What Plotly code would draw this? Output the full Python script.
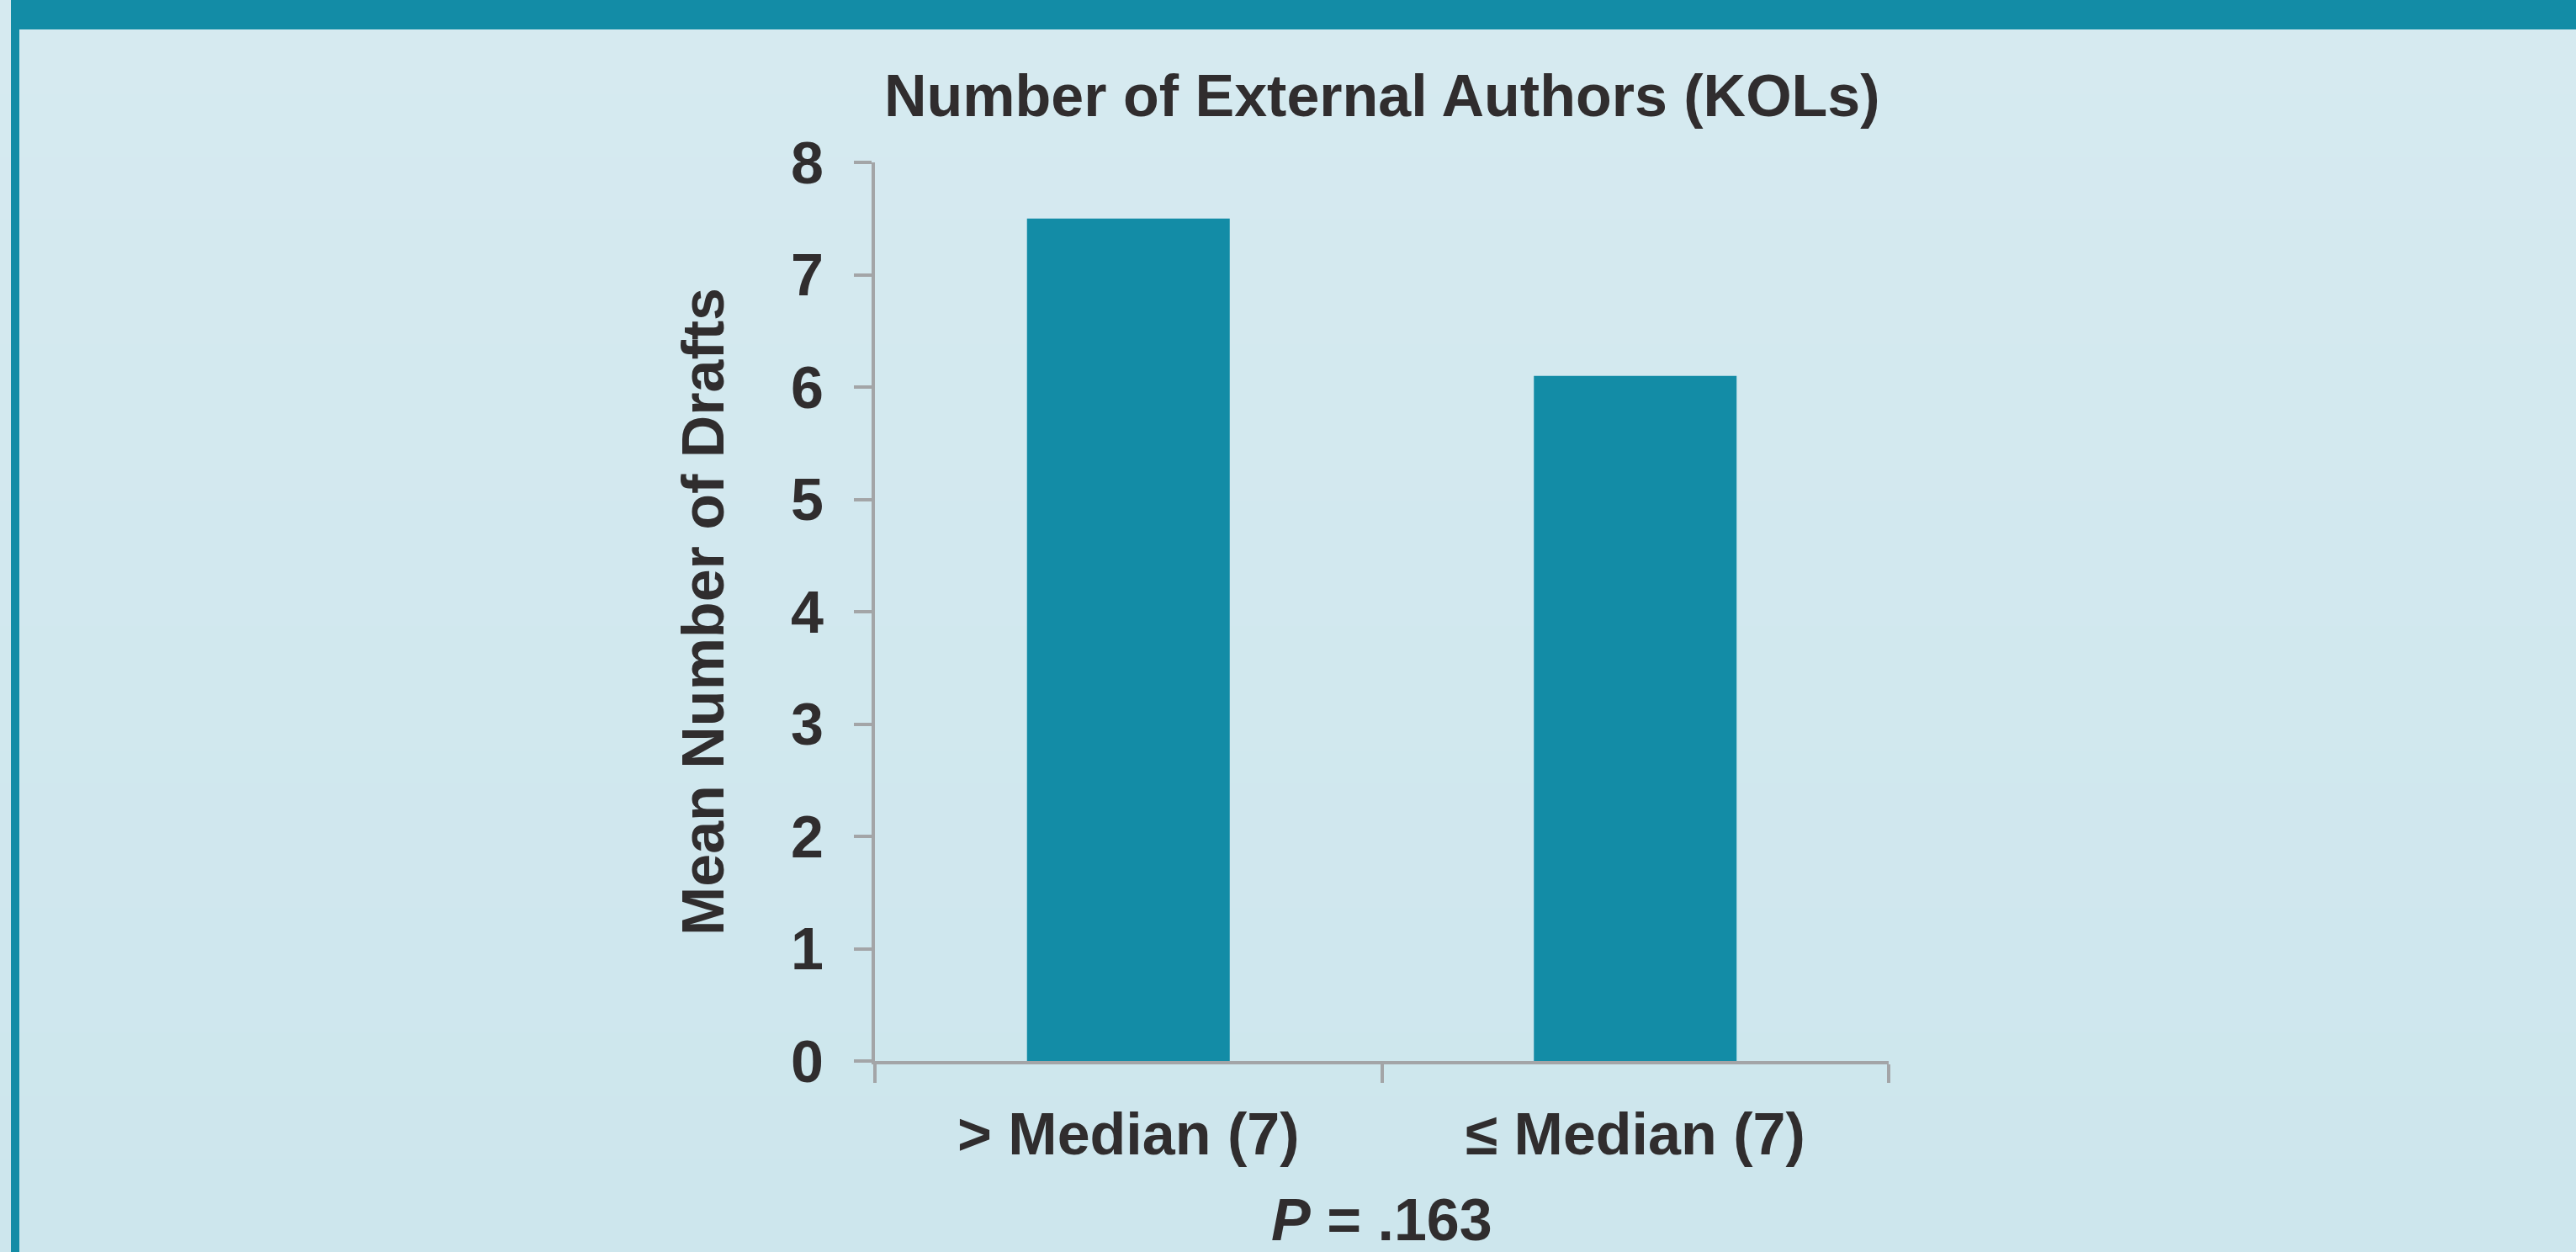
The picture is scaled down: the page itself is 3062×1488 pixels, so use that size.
import plotly.graph_objects as go

# Mean number of drafts by count of external authors (KOLs)
categories = ["> Median (7)", "≤ Median (7)"]
mean_drafts = [7.5, 6.1]
y_ticks = [0, 1, 2, 3, 4, 5, 6, 7, 8]

W, H = 3062, 1488
TEAL = "#138ca6"
TEXT = "#302d2e"
AXIS = "#a3a5a7"
FONT = "Arial, 'Liberation Sans', sans-serif"

fig = go.Figure(
    go.Bar(
        x=categories,
        y=mean_drafts,
        marker=dict(color=TEAL, line=dict(width=0)),
        width=0.4,
        hoverinfo="skip",
    )
)

# plot area in page pixels
plot_top, plot_bot = 193, 1261
plot_left, plot_right = 1040, 2245
ph = plot_bot - plot_top
pw = plot_right - plot_left


def py(pix):
    return (plot_bot - pix) / ph


def px(pix):
    return (pix - plot_left) / pw


# soft vertical background gradient, drawn as thin strips behind everything
top_rgb = (214, 234, 240)
bot_rgb = (205, 230, 237)
n_strips = 40
shapes = []
for i in range(n_strips):
    t = i / (n_strips - 1)
    r, g, b = (round(a + (c - a) * t) for a, c in zip(top_rgb, bot_rgb))
    y_top = H * i / n_strips
    y_bot = H * (i + 1) / n_strips + 1
    shapes.append(dict(
        type="rect", xref="paper", yref="paper", layer="below",
        x0=px(0), x1=px(W), y0=py(y_bot), y1=py(y_top),
        line=dict(width=0), fillcolor=f"rgb({r},{g},{b})",
    ))

# teal frame: top band and left rule
shapes.append(dict(type="rect", xref="paper", yref="paper", layer="below",
                   x0=px(13), x1=px(W), y0=py(35), y1=py(0),
                   line=dict(width=0), fillcolor=TEAL))
shapes.append(dict(type="rect", xref="paper", yref="paper", layer="below",
                   x0=px(13), x1=px(23), y0=py(H), y1=py(0),
                   line=dict(width=0), fillcolor=TEAL))

fig.update_layout(
    width=W,
    height=H,
    margin=dict(l=plot_left, r=W - plot_right, t=plot_top, b=H - plot_bot, pad=0),
    paper_bgcolor="rgba(0,0,0,0)",
    plot_bgcolor="rgba(0,0,0,0)",
    font=dict(family=FONT, color=TEXT, size=70),
    showlegend=False,
    bargap=0.6,
    shapes=shapes,
    annotations=[
        dict(text="<b>Number of External Authors (KOLs)</b>",
             xref="paper", yref="paper", x=0.5, y=py(114),
             xanchor="center", yanchor="middle", showarrow=False,
             font=dict(family=FONT, size=70, color=TEXT)),
        dict(text="<b><i>P</i> = .163</b>",
             xref="paper", yref="paper", x=0.5, y=py(1450),
             xanchor="center", yanchor="middle", showarrow=False,
             font=dict(family=FONT, size=70, color=TEXT)),
    ],
)

fig.update_xaxes(
    type="category",
    showline=True, linecolor=AXIS, linewidth=4,
    ticks="outside", tickson="boundaries", ticklen=22, tickwidth=4, tickcolor=AXIS,
    tickfont=dict(family=FONT, size=70, color=TEXT),
    tickvals=categories,
    ticktext=[f"<b>{c}</b>" for c in categories],
    showgrid=False, zeroline=False,
    ticklabelstandoff=23,
)

fig.update_yaxes(
    range=[0, 8],
    tickvals=y_ticks,
    ticktext=[f"<b>{v}</b>" for v in y_ticks],
    showline=True, linecolor=AXIS, linewidth=4,
    ticks="outside", ticklen=21, tickwidth=4, tickcolor=AXIS,
    tickfont=dict(family=FONT, size=70, color=TEXT),
    showgrid=False, zeroline=False,
    ticklabelstandoff=22,
    title=dict(text="<b>Mean Number of Drafts</b>", standoff=58,
               font=dict(family=FONT, size=70, color=TEXT)),
)

fig.write_html("out.html")
